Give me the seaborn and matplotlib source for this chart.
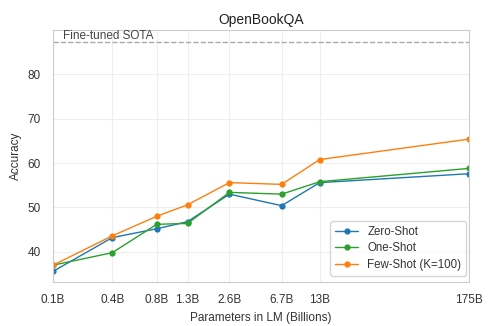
import matplotlib
matplotlib.use("Agg")
import matplotlib.pyplot as plt
import seaborn as sns
import pandas as pd

params = [0.125, 0.35, 0.76, 1.3, 2.7, 6.7, 13, 175]
tick_labels = ["0.1B", "0.4B", "0.8B", "1.3B", "2.6B", "6.7B", "13B", "175B"]
zero_shot = [35.6, 43.2, 45.2, 46.8, 53.0, 50.4, 55.6, 57.6]
one_shot = [37.0, 39.8, 46.2, 46.4, 53.4, 53.0, 55.8, 58.8]
few_shot = [37.0, 43.6, 48.0, 50.6, 55.6, 55.2, 60.8, 65.4]
sota = 87.2
series_names = ["Zero-Shot", "One-Shot", "Few-Shot (K=100)"]

sns.set_theme(style="whitegrid")
plt.rcParams['font.family'] = ['Liberation Sans', 'DejaVu Sans']

rows = []
for name, vals in zip(series_names, [zero_shot, one_shot, few_shot]):
    for p, v in zip(params, vals):
        rows.append({"params": p, "acc": v, "setting": name})
df = pd.DataFrame(rows)

fig, ax = plt.subplots(figsize=(4.92, 3.26), dpi=100)
palette = ["#1f77b4", "#2ca02c", "#ff7f0e"]
sns.lineplot(data=df, x="params", y="acc", hue="setting", palette=palette,
             marker="o", markersize=4.5, markeredgewidth=0, linewidth=1.0, ax=ax)
ax.set_xscale("log")
ax.axhline(sota, color="#aaaaaa", linestyle="--", linewidth=1.0)
ax.text(0.148, sota + 0.1, "Fine-tuned SOTA", color="#444444", fontsize=8.5, va="bottom")
ax.set_xticks(params)
ax.set_xticklabels(tick_labels, fontsize=8.5)
ax.minorticks_off()
ax.set_xlim(params[0], params[-1])
ax.set_ylim(33.2, 90)
ax.set_yticks([40, 50, 60, 70, 80])
ax.tick_params(axis="y", labelsize=8.5)
ax.tick_params(axis="both", colors="#333333", pad=3)
ax.set_xlabel("Parameters in LM (Billions)", fontsize=8.5, color="#333333")
ax.set_ylabel("Accuracy", fontsize=8.5, color="#333333")
ax.set_title("OpenBookQA", fontsize=10, pad=4, color="#222222")
ax.grid(True, color="#eeeeee", linewidth=0.8)
for s in ax.spines.values():
    s.set_color("#cccccc")
    s.set_linewidth(0.8)
leg = ax.legend(loc="lower right", fontsize=8.3, title=None, frameon=True,
                bbox_to_anchor=(0.993, 0.025), borderaxespad=0.0, handlelength=2.0,
                labelspacing=0.4, borderpad=0.4)
for t in leg.get_texts():
    t.set_color("#333333")
fig.subplots_adjust(left=0.108, right=0.953, top=0.908, bottom=0.135)
fig.savefig("out.png", dpi=100)
